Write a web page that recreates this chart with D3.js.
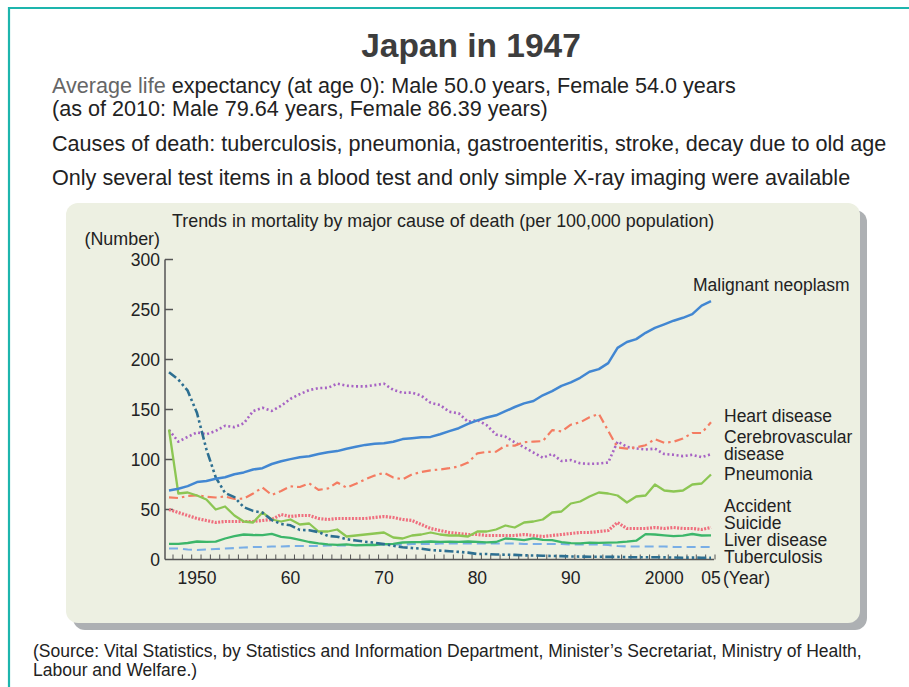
<!DOCTYPE html>
<html>
<head>
<meta charset="utf-8">
<script src="https://cdn.jsdelivr.net/npm/d3@7"></script>
<style>
  body { margin: 0; background: #fff; }
  svg { display: block; font-family: "Liberation Sans", Arial, sans-serif; }
  .axis-line { stroke: #555; stroke-width: 1.5; fill: none; }
  .tick-label { font-size: 17.5px; fill: #222; }
  .series { fill: none; stroke-linejoin: round; }
  .series-label { font-size: 17.5px; fill: #222; }
</style>
</head>
<body>
<div class="chart"></div>
<script>
// Years on the x axis (one point per year)
var years = [1947, 1948, 1949, 1950, 1951, 1952, 1953, 1954, 1955, 1956,
  1957, 1958, 1959, 1960, 1961, 1962, 1963, 1964, 1965, 1966,
  1967, 1968, 1969, 1970, 1971, 1972, 1973, 1974, 1975, 1976,
  1977, 1978, 1979, 1980, 1981, 1982, 1983, 1984, 1985, 1986,
  1987, 1988, 1989, 1990, 1991, 1992, 1993, 1994, 1995, 1996,
  1997, 1998, 1999, 2000, 2001, 2002, 2003, 2004, 2005];

var malignant = [69.0, 70.8, 73.4, 77.4, 78.5, 80.8, 82.2, 85.3, 87.1, 90.0,
  91.3, 95.5, 98.2, 100.4, 102.3, 103.2, 105.5, 107.2, 108.4, 110.8,
  112.7, 114.6, 115.8, 116.3, 117.7, 120.4, 121.2, 122.2, 122.6, 125.3,
  128.4, 131.3, 135.7, 139.1, 142.0, 144.2, 148.3, 152.5, 156.1, 158.5,
  164.2, 168.4, 173.6, 177.2, 181.7, 187.8, 190.4, 196.4, 211.6, 217.5,
  220.4, 226.7, 231.6, 235.2, 238.8, 241.7, 245.4, 253.9, 258.3];

var heart = [62.2, 61.5, 63.5, 64.2, 62.8, 62.0, 63.0, 60.5, 60.9, 66.0,
  72.0, 64.5, 68.5, 73.2, 72.5, 76.2, 69.6, 71.0, 77.0, 71.9,
  75.7, 80.2, 83.9, 86.7, 82.0, 80.2, 85.0, 87.5, 89.2, 90.0,
  91.3, 93.0, 96.9, 106.2, 107.6, 107.8, 113.9, 113.9, 117.3, 117.9,
  118.4, 129.4, 128.1, 134.8, 137.2, 142.2, 145.6, 128.6, 112.0, 110.8,
  112.2, 114.3, 120.4, 116.8, 117.8, 121.0, 126.5, 126.5, 137.2];

var cerebro = [129.4, 117.9, 122.6, 127.1, 125.2, 128.5, 133.7, 132.4, 136.1, 148.4,
  151.7, 148.6, 153.7, 160.7, 165.4, 169.4, 171.4, 171.7, 175.8, 173.8,
  173.1, 173.1, 174.4, 175.8, 169.6, 166.7, 166.9, 163.8, 156.7, 154.5,
  147.7, 146.2, 137.7, 139.5, 134.3, 125.0, 122.8, 117.2, 112.2, 106.9,
  101.7, 105.5, 98.5, 99.4, 96.2, 95.6, 96.0, 96.9, 117.9, 112.6,
  111.0, 110.0, 110.8, 105.5, 104.7, 103.4, 104.7, 102.3, 105.3];

var pneumonia = [130, 66, 67, 64, 60, 50, 53, 44, 38, 37,
  47, 40, 38, 40, 35, 36, 28, 28, 30, 23,
  24, 25, 26, 27, 22, 21, 24, 25, 27, 25,
  24, 24, 23, 28, 28, 30, 34, 32, 37, 38,
  40, 47, 48, 56, 58, 63, 67, 66, 64, 57,
  63, 64, 75, 69, 68, 69, 75, 76, 85];

var accident = [50, 47, 44, 41, 39, 37, 38, 38, 38, 38,
  39, 40, 45, 43, 44, 44, 41, 40, 41, 41,
  41, 41, 42, 43, 42, 40, 39, 35, 31, 29,
  27, 26, 25, 25, 24, 24, 24, 24, 25, 24,
  23, 24, 25, 26, 27, 27, 28, 29, 37, 31,
  31, 31, 32, 31, 32, 31, 31, 30, 32];

var suicide = [15.7, 15.7, 16.5, 18.0, 17.6, 17.8, 21.0, 23.4, 25.0, 24.5,
  24.3, 25.7, 22.7, 21.6, 19.6, 17.5, 16.1, 15.1, 14.7, 15.2,
  14.2, 14.5, 14.5, 15.3, 15.6, 17.0, 17.4, 17.5, 18.0, 17.6,
  17.9, 17.6, 18.0, 17.7, 17.1, 17.5, 21.0, 20.4, 19.4, 21.2,
  19.6, 19.4, 17.3, 16.4, 16.1, 16.9, 16.6, 16.9, 17.2, 17.8,
  18.8, 25.4, 25.0, 24.1, 23.3, 23.8, 25.5, 24.0, 24.2];

var liver = [11, 11, 10, 9.5, 10, 10.5, 11, 11.5, 12, 12.5,
  12.5, 13, 13, 13.5, 13.5, 13.5, 13.5, 14, 14, 14,
  14.5, 14.5, 15, 15, 15, 15, 15.5, 15.5, 15.5, 16,
  16, 16, 16, 16, 16, 16, 16, 16, 15.5, 15.5,
  15.5, 15.5, 15.5, 15, 15, 15, 15, 14.5, 13.5, 13,
  13, 13, 13, 13, 12.5, 12.5, 12.5, 12.5, 12.5];

var tuberculosis = [187.2, 179.9, 168.8, 146.4, 110.3, 82.2, 66.5, 62.4, 52.3, 48.6,
  46.9, 39.4, 35.5, 34.2, 29.6, 29.3, 27.4, 23.6, 22.8, 20.3,
  19.0, 17.8, 16.8, 15.4, 13.7, 12.3, 11.5, 10.8, 9.5, 8.9,
  8.3, 7.6, 6.9, 5.5, 5.5, 5.0, 4.8, 4.6, 4.2, 4.0,
  3.8, 3.5, 3.4, 3.0, 2.9, 2.8, 2.8, 2.6, 2.6, 2.3,
  2.2, 2.2, 2.3, 2.1, 2.0, 1.8, 1.9, 1.8, 1.8];

var yTicks = [0, 50, 100, 150, 200, 250, 300];
var xTickYears = [1950, 1960, 1970, 1980, 1990, 2000, 2005];
var xTickLabels = ["1950", "60", "70", "80", "90", "2000", "05"];

var introLines = [
  "(as of 2010: Male 79.64 years, Female 86.39 years)",
  "Causes of death: tuberculosis, pneumonia, gastroenteritis, stroke, decay due to old age",
  "Only several test items in a blood test and only simple X-ray imaging were available"
];

// series drawn from the arrays above
var series = [
  { name: "Cerebrovascular disease", values: cerebro, color: "#a763c4", width: 2.6, dash: "2,2.6" },
  { name: "Heart disease", values: heart, color: "#f47c62", width: 2.2, dash: "9,4,2.5,4" },
  { name: "Accident", values: accident, color: "#ef6f7e", width: 3.2, dash: "2,1.4" },
  { name: "Liver disease", values: liver, color: "#79aee6", width: 2.2, dash: "9,5" },
  { name: "Suicide", values: suicide, color: "#3cb66a", width: 2.3, dash: null },
  { name: "Pneumonia", values: pneumonia, color: "#8cc653", width: 2.3, dash: null },
  { name: "Tuberculosis", values: tuberculosis, color: "#2d6f91", width: 2.6, dash: "9,3,2.5,3,2.5,3" },
  { name: "Malignant neoplasm", values: malignant, color: "#4287d2", width: 2.5, dash: null }
];

var labels = [
  { lines: ["Malignant neoplasm"], x: 693, y: 291 },
  { lines: ["Heart disease"], x: 724, y: 422 },
  { lines: ["Cerebrovascular", "disease"], x: 724, y: 443 },
  { lines: ["Pneumonia"], x: 724, y: 480 },
  { lines: ["Accident"], x: 724, y: 512 },
  { lines: ["Suicide"], x: 724, y: 529 },
  { lines: ["Liver disease"], x: 724, y: 546 },
  { lines: ["Tuberculosis"], x: 724, y: 563 }
];

var width = 909, height = 687;
var svg = d3.select(".chart").append("svg")
    .attr("width", width)
    .attr("height", height);

// teal frame on the top and left
svg.append("path")
    .attr("d", "M9,687 V8 H909")
    .attr("fill", "none")
    .attr("stroke", "#1db5ad")
    .attr("stroke-width", 2.2);

svg.append("text")
    .attr("x", 471)
    .attr("y", 57)
    .attr("text-anchor", "middle")
    .attr("font-size", 33.5)
    .attr("font-weight", "bold")
    .attr("fill", "#3d3d3d")
    .text("Japan in 1947");

var first = svg.append("text")
    .attr("x", 52)
    .attr("y", 93)
    .attr("font-size", 21.6)
    .attr("fill", "#222");
first.append("tspan").attr("fill", "#666").text("Average life ");
first.append("tspan").text("expectancy (at age 0): Male 50.0 years, Female 54.0 years");

svg.selectAll(".intro")
    .data(introLines)
    .enter().append("text")
    .attr("class", "intro")
    .attr("x", 52)
    .attr("y", function(d, i) { return [116, 151, 185][i]; })
    .attr("font-size", 21.6)
    .attr("fill", "#222")
    .text(function(d) { return d; });

// panel with its grey shadow
svg.append("rect")
    .attr("x", 73).attr("y", 210)
    .attr("width", 794).attr("height", 420)
    .attr("rx", 12)
    .attr("fill", "#adb0b3");
svg.append("rect")
    .attr("x", 66).attr("y", 203)
    .attr("width", 794).attr("height", 420)
    .attr("rx", 12)
    .attr("fill", "#edf0e2");

svg.append("text")
    .attr("x", 172).attr("y", 227)
    .attr("font-size", 17.9)
    .attr("fill", "#222")
    .text("Trends in mortality by major cause of death (per 100,000 population)");
svg.append("text")
    .attr("x", 160).attr("y", 245)
    .attr("text-anchor", "end")
    .attr("font-size", 17.9)
    .attr("fill", "#222")
    .text("(Number)");

var xScale = d3.scaleLinear()
    .domain([1947, 2005])
    .range([169, 711]);
var yScale = d3.scaleLinear()
    .domain([0, 300])
    .range([559.5, 259.5]);

// Y axis
var yAxis = svg.append("g");
yAxis.append("line")
    .attr("class", "axis-line")
    .attr("x1", 165).attr("x2", 165)
    .attr("y1", yScale(300)).attr("y2", yScale(0));
yAxis.selectAll(".ytick")
    .data(yTicks.filter(function(d) { return d > 0; }))
    .enter().append("line")
    .attr("class", "axis-line")
    .attr("x1", 165).attr("x2", 173)
    .attr("y1", function(d) { return yScale(d); })
    .attr("y2", function(d) { return yScale(d); });
yAxis.selectAll(".ylabel")
    .data(yTicks)
    .enter().append("text")
    .attr("class", "tick-label")
    .attr("x", 160)
    .attr("y", function(d) { return yScale(d) + 6; })
    .attr("text-anchor", "end")
    .text(function(d) { return d; });

// X axis with a small tick for every year
var xAxis = svg.append("g");
xAxis.append("line")
    .attr("class", "axis-line")
    .attr("x1", 165).attr("x2", xScale(2005) + 3)
    .attr("y1", yScale(0)).attr("y2", yScale(0));
xAxis.selectAll(".xtick")
    .data(years)
    .enter().append("line")
    .attr("x1", function(d) { return xScale(d) + 4; })
    .attr("x2", function(d) { return xScale(d) + 4; })
    .attr("y1", yScale(0))
    .attr("y2", yScale(0) - 5)
    .attr("stroke", "#555")
    .attr("stroke-width", 1);
xAxis.selectAll(".xlabel")
    .data(xTickYears)
    .enter().append("text")
    .attr("class", "tick-label")
    .attr("x", function(d) { return xScale(d); })
    .attr("y", 584)
    .attr("text-anchor", "middle")
    .text(function(d, i) { return xTickLabels[i]; });
xAxis.append("text")
    .attr("class", "tick-label")
    .attr("x", 723).attr("y", 584)
    .text("(Year)");

var line = d3.line()
    .x(function(d) { return xScale(d.year); })
    .y(function(d) { return yScale(d.value); });

svg.selectAll(".series")
    .data(series)
    .enter().append("path")
    .attr("class", "series")
    .attr("d", function(s) {
      return line(s.values.map(function(v, i) { return { year: years[i], value: v }; }));
    })
    .attr("stroke", function(s) { return s.color; })
    .attr("stroke-width", function(s) { return s.width; })
    .attr("stroke-dasharray", function(s) { return s.dash; });

// series names at the right end
labels.forEach(function(l) {
  var t = svg.append("text")
      .attr("class", "series-label")
      .attr("x", l.x)
      .attr("y", l.y);
  l.lines.forEach(function(s, i) {
    t.append("tspan")
        .attr("x", l.x)
        .attr("dy", i === 0 ? 0 : 16.5)
        .text(s);
  });
});

svg.append("text")
    .attr("x", 33).attr("y", 657)
    .attr("font-size", 17.5)
    .attr("fill", "#222")
    .text("(Source: Vital Statistics, by Statistics and Information Department, Minister\u2019s Secretariat, Ministry of Health,");
svg.append("text")
    .attr("x", 33).attr("y", 676)
    .attr("font-size", 17.5)
    .attr("fill", "#222")
    .text("Labour and Welfare.)");
</script>
</body>
</html>
